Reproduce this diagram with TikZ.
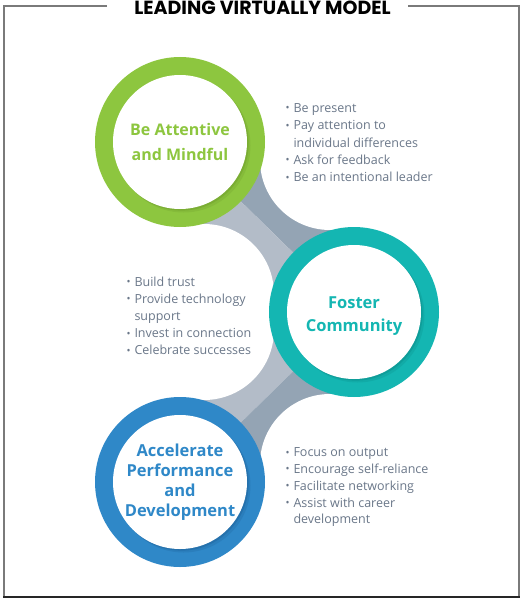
\documentclass[tikz,border=0pt]{standalone}
\usepackage{fontspec}
\usepackage{graphicx}
\setmainfont{Open Sans}
\newfontfamily\titlefont{Poppins}
\usetikzlibrary{calc}
\definecolor{ringgreen}{HTML}{8DC63F}
\definecolor{ringgreendk}{HTML}{6E9E2C}
\definecolor{ringteal}{HTML}{14B6B2}
\definecolor{ringtealdk}{HTML}{0B8C89}
\definecolor{ringblue}{HTML}{2F88C8}
\definecolor{ringbluedk}{HTML}{1F629A}
\definecolor{banddark}{HTML}{94A4B4}
\definecolor{bandlight}{HTML}{B3BCC8}
\definecolor{listgray}{HTML}{6A7789}
\definecolor{framegray}{HTML}{7A7A7A}
\newcommand\VLc[1]{\begin{tabular}[t]{@{}c@{}}#1\end{tabular}}
\newcommand\VLl[1]{\begin{tabular}[t]{@{}l@{}}#1\end{tabular}}
\newcommand\bu{\makebox[7.8pt][l]{\raisebox{0.6pt}{\scalebox{0.85}{•}}}}
\newcommand\nobu{\hspace*{7.8pt}}
\newcommand\ViRing[3]{%
  \fill[#2] (#1) circle (85pt);
  \fill[#3,opacity=.25] ($(#1)+(3.5,3.5)$) circle (67pt);
  \fill[#3,opacity=.45] ($(#1)+(1.6,1.6)$) circle (67pt);
  \fill[white] (#1) circle (67pt);
}
\tikzset{
  framestroke/.style={draw=framegray,line width=2pt},
  ringlabel/.style={inner sep=0pt,anchor=base,font=\fontsize{16}{25}\selectfont\bfseries},
  listtext/.style={inner sep=0pt,anchor=base west,text=listgray},
  ringspot/.style={circle,inner sep=0pt,minimum size=170pt}
}
\begin{document}
\begin{tikzpicture}[x=1pt,y=-1pt]
\useasboundingbox (0,0) rectangle (525,602);
% frame
\draw[framestroke] (107,6) -- (4,6) -- (4,597);
\draw[framestroke] (408,6) -- (519,6) -- (519,597);
\draw[draw=black!85,line width=2pt] (3,597) -- (520,597);
\node[inner sep=0pt,anchor=base,font=\titlefont\bfseries\fontsize{19}{22}\selectfont] (title) at (262.5,14.5) {LEADING VIRTUALLY MODEL};
% ring positions
\node[ringspot] (G) at (180,142) {};
\node[ringspot] (T) at (354,312) {};
\node[ringspot] (B) at (180,482) {};
\coordinate (C1) at (330,160);
\coordinate (C2) at (204,294);
\coordinate (C3) at (204,330);
\coordinate (C4) at (330,464);
% bands
\fill[banddark] (G.center) -- (C1) -- (T.center) -- cycle;
\fill[bandlight] (G.center) -- (T.center) -- (C2) -- cycle;
\fill[bandlight] (T.center) -- (C3) -- (B.center) -- cycle;
\fill[banddark] (T.center) -- (B.center) -- (C4) -- cycle;
\foreach \c in {C1,C2,C3,C4} \fill[white] (\c) circle (70pt);
% rings
\ViRing{G.center}{ringgreen}{ringgreendk}
\ViRing{T.center}{ringteal}{ringtealdk}
\ViRing{B.center}{ringblue}{ringbluedk}
% labels
\node[ringlabel,text=ringgreen] (Gtext) at (180,135) {\VLc{Be Attentive\\and Mindful}};
\node[ringlabel,text=ringteal,font=\fontsize{16.5}{23.4}\selectfont\bfseries] (Ttext) at (354,308.3) {\VLc{Foster\\Community}};
\node[ringlabel,text=ringblue,font=\fontsize{16.5}{20}\selectfont\bfseries] (Btext) at (180,456.7) {\VLc{Accelerate\\Performance\\and\\Development}};
% lists
\node[listtext,font=\fontsize{12.5}{17.3}\selectfont] (list1) at (285.5,112.5) {\VLl{\bu Be present\\\bu Pay attention to\\\nobu individual differences\\\bu Ask for feedback\\\bu Be an intentional leader}};
\node[listtext,font=\fontsize{12.5}{17.2}\selectfont] (list2) at (126.5,286) {\VLl{\bu Build trust\\\bu Provide technology\\\nobu support\\\bu Invest in connection\\\bu Celebrate successes}};
\node[listtext,font=\fontsize{12.5}{16.8}\selectfont] (list3) at (285.5,456.7) {\VLl{\bu Focus on output\\\bu Encourage self-reliance\\\bu Facilitate networking\\\bu Assist with career\\\nobu development}};
\end{tikzpicture}
\end{document}
